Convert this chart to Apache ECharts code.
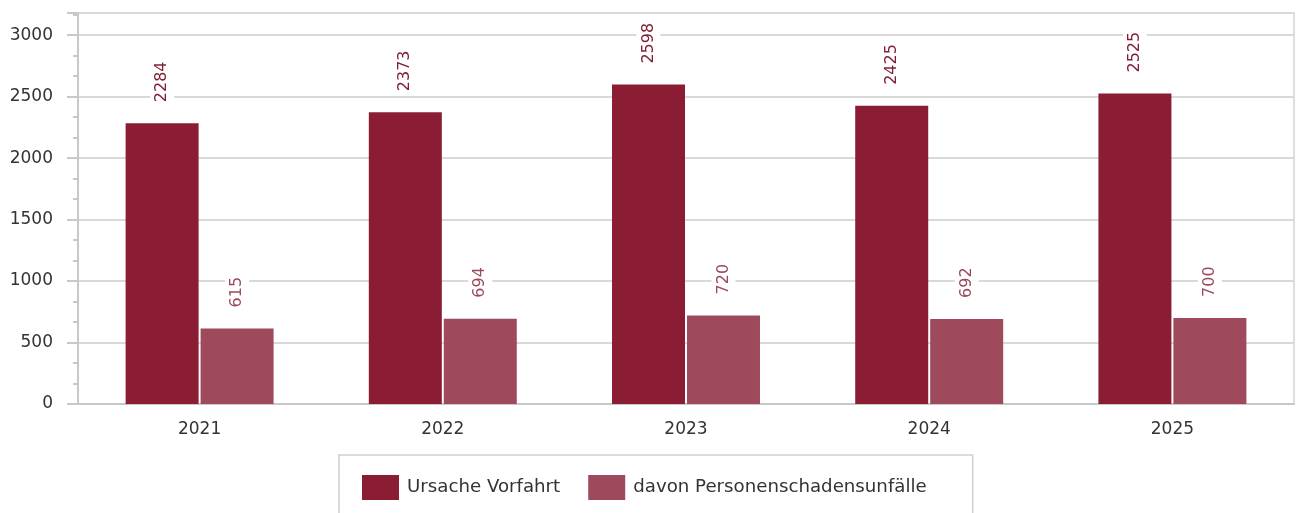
<!DOCTYPE html>
<html>
<head>
<meta charset="utf-8">
<script src="https://cdn.jsdelivr.net/npm/echarts@6/dist/echarts.min.js"></script>
<style>
  html, body { margin: 0; padding: 0; background: #fff; }
  #chart { width: 1298px; height: 513px; }
</style>
</head>
<body>
<div id="chart"></div>
<script>
const years = ['2021', '2022', '2023', '2024', '2025']
const vorfahrt = [2284, 2373, 2598, 2425, 2525]
const personen = [615, 694, 720, 692, 700]
const seriesNames = ['Ursache Vorfahrt', 'davon Personenschadensunfälle']

const font = 'DejaVu Sans'
const darkRed = '#8a1c34'
const lightRed = '#9e4a5c'

const chart = echarts.init(document.getElementById('chart'))

const barLabel = (color) => ({
  show: true,
  position: 'top',
  rotate: 90,
  align: 'left',
  verticalAlign: 'middle',
  distance: 18,
  color: color,
  fontFamily: font,
  fontSize: 16,
  backgroundColor: '#fff',
  padding: [4, 3, 4, 3]
})

chart.setOption({
  animation: false,
  textStyle: { fontFamily: font },
  grid: {
    left: 78,
    right: 4,
    top: 13,
    bottom: 109,
    show: true,
    borderColor: '#d4d4d4',
    borderWidth: 1.5
  },
  legend: {
    left: 339,
    top: 455,
    data: seriesNames,
    icon: 'rect',
    itemWidth: 37,
    itemHeight: 25,
    itemGap: 28,
    padding: [20, 46, 22, 23],
    borderColor: '#d0d0d0',
    borderWidth: 1.5,
    textStyle: { fontFamily: font, fontSize: 18.2, color: '#333', padding: [0, 0, 0, 3] }
  },
  xAxis: [
    {
      type: 'category',
      data: years,
      position: 'bottom',
      axisLine: { lineStyle: { color: '#c8c8c8', width: 2 } },
      axisTick: { alignWithLabel: true, length: 8, lineStyle: { color: '#c8c8c8', width: 2 } },
      axisLabel: { fontFamily: font, fontSize: 17, color: '#333', margin: 17 }
    },
    {
      type: 'category',
      data: years,
      position: 'bottom',
      axisLine: { show: false },
      axisTick: { length: 4, lineStyle: { color: '#c8c8c8', width: 2 } },
      axisLabel: { show: false }
    }
  ],
  yAxis: {
    type: 'value',
    min: 0,
    max: 3180,
    interval: 500,
    axisLine: { show: true, lineStyle: { color: '#c8c8c8', width: 2 } },
    axisTick: { show: true, length: 11, lineStyle: { color: '#c8c8c8', width: 2 } },
    minorTick: { show: true, splitNumber: 3, length: 5, lineStyle: { color: '#c8c8c8', width: 2 } },
    splitLine: { lineStyle: { color: '#d9d9d9', width: 2 } },
    axisLabel: {
      fontFamily: font, fontSize: 17, color: '#333', margin: 25, showMaxLabel: false,
      formatter: (v) => String(v)
    }
  },
  series: [
    {
      name: seriesNames[0],
      type: 'bar',
      data: vorfahrt,
      barWidth: 73,
      barGap: '2.7%',
      itemStyle: { color: darkRed },
      label: barLabel('#7e1d34')
    },
    {
      name: seriesNames[1],
      type: 'bar',
      data: personen,
      barWidth: 73,
      itemStyle: { color: lightRed },
      label: barLabel('#9b4a5c')
    }
  ]
})
</script>
</body>
</html>
